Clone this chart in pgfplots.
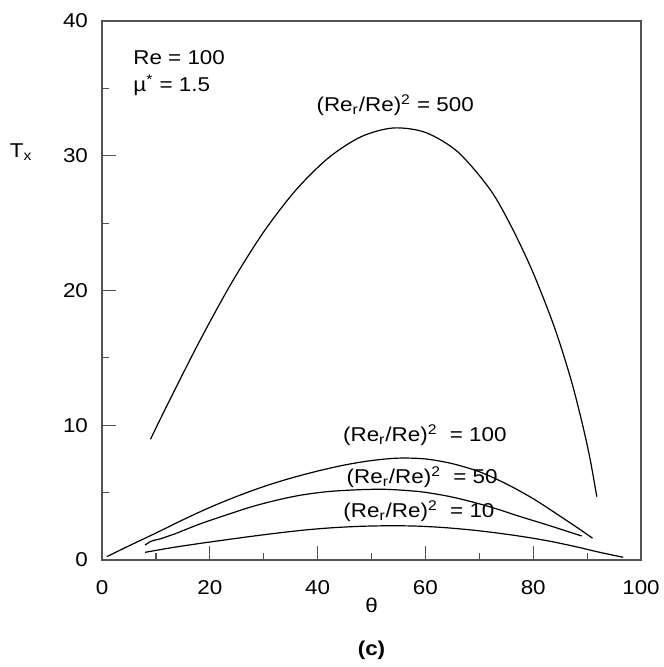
\documentclass[border=0pt]{standalone}
\usepackage{fontspec}
\setmainfont{Liberation Sans}[FakeStretch=1.12]
\usepackage{pgfplots}
\pgfplotsset{compat=1.18}
\newcommand{\fs}{\fontsize{10}{12}\selectfont}
\begin{document}
\begin{tikzpicture}
\begin{axis}[name=ax, scale only axis, width=269.5pt, height=269.5pt,
 xmin=0, xmax=100, ymin=0, ymax=40,
 xtick={0,20,...,100}, ytick={0,10,...,40},
 minor x tick num=1, minor y tick num=1,
 tick pos=left, tick align=inside,
 major tick length=7pt, minor tick length=3.5pt,
 axis line style={draw=black!68, line width=0.75pt},
 tick style={draw=black!68, line width=0.6pt},
 tick label style={font=\fs},
 /pgf/number format/assume math mode=true,
 xticklabel style={yshift=-6.5pt},
 yticklabel style={xshift=-3.5pt},
 xlabel={θ},
 xlabel style={at={(axis description cs:0.5,-0.085)}, anchor=center, font=\fs},
 ylabel={T\textsubscript{x}},
 ylabel style={at={(axis description cs:-0.15,0.757)}, rotate=-90, anchor=center, font=\fs},
]
% (Re_r/Re)^2 = 500
\addplot[black, line width=0.6pt, smooth] coordinates {(9,8.96) (12,11.42) (18,16.16) (24,20.54) (30,24.35) (36,27.47) (42,29.84) (48,31.40) (54,32.06) (60,31.73) (66,30.29) (72,27.5) (76,24.7) (80,21.3) (84,17.2) (87,13.4) (89,10.3) (90.5,7.6) (91.8,4.7)};
% 100
\addplot[black, line width=0.6pt, smooth] coordinates {(0.9,0.25) (5,1.05) (10,2.0) (15,2.98) (20,3.9) (25,4.72) (30,5.45) (35,6.07) (40,6.6) (45,7.05) (50,7.38) (55,7.56) (60,7.5) (65,7.15) (70,6.55) (75,5.65) (80,4.55) (85,3.25) (88,2.45) (91,1.62)};
% 50
\addplot[black, line width=0.6pt] coordinates {(8.0,1.11) (8.9,1.36) (9.83,1.48) (10.76,1.56) (12.0,1.73) (13.8,1.98)};
\addplot[black, line width=0.6pt, smooth] coordinates {(13.8,1.98) (18,2.65) (22,3.2) (27.5,3.92) (32,4.4) (36.7,4.8) (42,5.08) (48,5.22) (53,5.24) (59,5.07) (64,4.75) (68.3,4.35) (73,3.82) (77.6,3.22) (82,2.68) (86,2.17) (89,1.78)};
% 10
\addplot[black, line width=0.6pt, smooth] coordinates {(8,0.57) (13,0.92) (18,1.22) (23,1.5) (28,1.77) (33,2.02) (38,2.24) (43,2.4) (48,2.5) (53,2.54) (58,2.52) (63,2.42) (68,2.25) (73,2.02) (78,1.74) (83,1.4) (88,0.98) (92,0.6) (96.7,0.2)};
\begin{scope}[every node/.style={font=\fs, inner sep=0pt}]
\node[anchor=west] at (axis cs:5.75,37.25) {Re = 100};
\node[anchor=west] at (axis cs:5.75,35.25) {µ\textsuperscript{*} = 1.5};
\node at (axis cs:54.4,33.77) {(Re\textsubscript{r}/Re)\textsuperscript{2} = 500};
\node at (axis cs:59.9,9.28) {(Re\textsubscript{r}/Re)\textsuperscript{2}\ \ = 100};
\node at (axis cs:59.4,6.16) {(Re\textsubscript{r}/Re)\textsuperscript{2}\ \ = 50};
\node at (axis cs:58.8,3.64) {(Re\textsubscript{r}/Re)\textsuperscript{2}\ \ = 10};
\end{scope}
\end{axis}
\node[font=\bfseries\fs] at ([yshift=-45pt]ax.south) {(c)};
\pgfresetboundingbox
\path ([xshift=-51pt,yshift=-53.5pt]ax.south west) rectangle ([xshift=11pt,yshift=10.5pt]ax.north east);
\end{tikzpicture}
\end{document}
